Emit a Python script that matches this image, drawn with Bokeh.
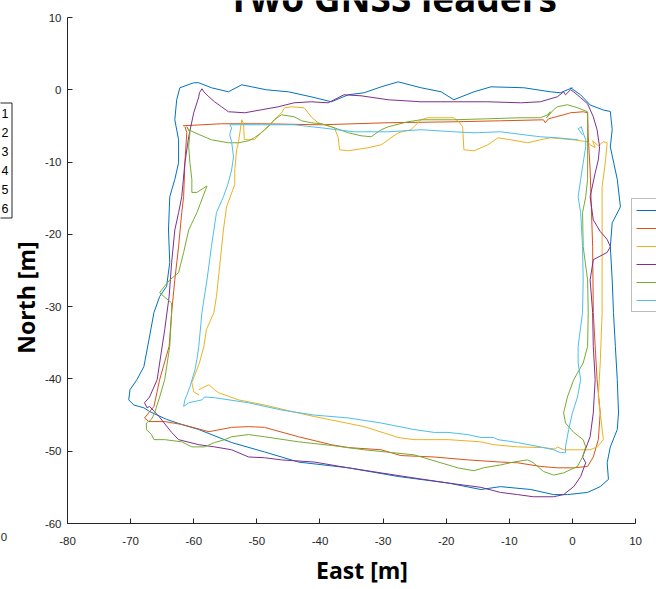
from bokeh.plotting import figure
from bokeh.layouts import row
from bokeh.models import Range1d, FixedTicker, Label, Legend, LegendItem
from bokeh.embed import file_html
from bokeh.resources import INLINE
from bokeh.core.properties import value
import math

# ---------------- data (East [m], North [m]) ----------------
x_ticks = [-80, -70, -60, -50, -40, -30, -20, -10, 0, 10]
y_ticks = [-60, -50, -40, -30, -20, -10, 0, 10]
series_names = ["1", "2", "3", "4", "5", "6"]
colors = ["#0072BD", "#D95319", "#EDB120", "#7E2F8E", "#77AC30", "#4DBEEE"]

east_1 = [0.0, -1.9, -3.5, -7.7, -12.9, -15.6, -18.8, -20.8, -24.0, -27.6, -30.3, -33.0, -35.5, -38.2, -41.4, -45.0,
          -48.5, -50.8, -52.4, -54.5, -57.2, -59.2, -60.0, -62.2, -62.7, -63.0, -62.4, -62.4, -63.0, -63.8, -64.0,
          -63.8, -64.3, -65.4, -66.3, -67.1, -67.9, -69.0, -70.1, -70.3, -69.5, -67.9, -67.0, -64.3, -61.9, -59.2,
          -54.0, -48.8, -43.4, -35.5, -27.6, -19.7, -14.5, -11.4, -6.6, -3.0, -0.8, 2.4, 4.4, 5.7, 5.5, 6.0, 7.1,
          7.3, 7.1, 6.8, 6.5, 6.3, 6.0, 6.3, 7.6, 7.1, 6.0, 6.3, 6.0, 4.9, 2.8, 1.3, -0.3]
north_1 = [0.28, -0.41, -0.28, 0.28, 0.41, -0.28, -1.38, -0.28, 0.28, 1.1, 0.41, -0.41, -0.69, -1.66, -0.97, -0.28,
           0.0, 0.41, 0.69, -0.28, 0.28, 0.97, 0.97, 0.28, -1.38, -4.15, -6.9, -10.1, -12.4, -14.8, -19.4,
           -23.9, -27.2, -28.6, -30.8, -34.6, -38.3, -40.1, -41.5, -42.9, -43.6, -44.0, -44.5, -45.6, -46.3, -47.0,
           -48.8, -50.1, -51.5, -52.3, -53.5, -54.4, -55.3, -54.9, -55.3, -56.0, -56.0, -55.7, -54.9, -53.9, -51.6,
           -49.4, -47.0, -44.7, -40.1, -35.5, -30.8, -26.3, -21.7, -18.4, -16.2, -12.4, -7.9, -5.5, -3.0, -2.8,
           -2.1, -0.7, 0.28]

east_2 = [-61.7, -55.6, -49.3, -39.8, -29.2, -18.8, -11.4, -4.6, -4.3, -3.8, -1.4, -0.3, 1.7, 2.4, 2.5, 2.8, 3.2,
          3.3, 3.9, 4.4, 4.1, 3.3, 2.4, 0.2, -2.4, -5.1, -8.7, -11.4, -16.6, -21.9, -27.2, -30.3, -35.5, -38.2,
          -43.4, -48.8, -51.3, -54.0, -57.6, -61.9, -64.6, -67.1, -67.8, -66.3, -65.4, -63.9, -63.5, -63.0, -62.4,
          -61.9, -61.6, -61.4, -61.1, -61.4]
north_2 = [-4.98, -4.70, -4.70, -4.84, -4.56, -4.43, -4.29, -4.15, -4.56, -4.01, -3.46, -3.18, -3.04, -3.18, -6.5,
           -11.1, -21.7, -30.8, -40.1, -44.7, -48.4, -50.8, -52.1, -52.3, -52.3, -52.1, -51.6, -51.5, -51.2, -50.8,
           -50.6, -49.8, -49.5, -49.1, -48.0, -46.7, -46.6, -46.7, -47.3, -46.3, -45.9, -45.9, -45.4, -43.8, -40.1,
           -35.5, -30.8, -26.3, -21.7, -17.0, -14.8, -10.1, -5.9, -5.1]

east_3 = [-59.2, -60.0, -60.3, -59.1, -58.4, -58.0, -56.8, -56.4, -55.9, -55.3, -54.8, -53.5, -53.5, -53.2, -52.9,
          -52.4, -52.1, -52.0, -50.4, -48.8, -47.7, -46.1, -45.6, -44.5, -42.5, -41.4, -40.3, -37.7, -37.1, -36.9,
          -35.5, -32.4, -30.3, -29.2, -27.6, -25.6, -24.0, -22.9, -18.8, -18.0, -17.4, -17.2, -15.6, -13.4, -11.8,
          -9.8, -7.1, -5.1, -3.5, 0.2, 2.4, 2.8, 3.6, 3.2, 4.1, 4.9, 5.5, 5.2, 4.7, 4.7, 4.7, 4.4, 4.1, 4.4, 4.9,
          3.9, 2.8, 1.3, -1.4, -2.4, -2.7, -4.6, -8.7, -12.5, -14.5, -19.7, -25.1, -27.6, -33.0, -40.9, -44.5,
          -48.8, -52.9, -56.1, -56.7, -57.6, -58.3, -59.2]
north_3 = [-42.2, -41.8, -40.5, -37.8, -35.5, -33.2, -30.8, -28.6, -24.5, -19.4, -16.2, -13.1, -11.1, -8.3, -7.2,
           -4.15, -4.7, -6.9, -6.9, -5.5, -4.56, -3.18, -2.49, -2.35, -2.49, -3.73, -4.56, -5.26, -6.64, -8.3,
           -8.44, -8.02, -7.61, -6.92, -5.95, -5.53, -4.15, -3.87, -3.87, -4.43, -5.12, -8.3, -8.44, -7.61, -6.64,
           -6.92, -7.33, -6.92, -6.64, -6.92, -7.19, -7.6, -8.0, -7.05, -7.75, -7.19, -7.33, -10.1, -13.4, -21.7,
           -30.8, -37.8, -42.5, -44.7, -48.4, -49.4, -49.8, -49.8, -49.8, -49.4, -49.7, -49.5, -49.4, -49.1,
           -48.7, -48.4, -48.4, -48.1, -46.6, -45.2, -44.5, -43.6, -42.9, -41.9, -41.5, -40.8, -41.1, -41.5]

east_4 = [-59.1, -58.7, -58.4, -57.6, -56.7, -55.6, -54.5, -51.9, -49.3, -46.6, -44.1, -41.4, -38.7, -36.2, -33.5,
          -29.2, -24.0, -18.8, -13.4, -8.2, -5.1, -2.4, -1.4, -1.1, -0.3, 0.2, 1.3, 2.4, 3.3, 3.9, 4.3, 4.1, 3.6,
          2.8, 3.3, 4.4, 5.5, 6.0, 5.5, 3.3, 2.8, 3.2, 3.3, 3.6, 3.3, 2.8, 1.6, 2.1, 1.3, 0.2, -1.4, -3.0, -6.2,
          -8.7, -11.4, -14.5, -19.7, -25.1, -30.3, -35.5, -40.9, -46.1, -48.8, -51.3, -54.0, -56.7, -59.2, -62.4,
          -63.5, -65.5, -67.0, -67.4, -67.8, -67.0, -65.8, -65.4, -64.6, -63.9, -63.5, -63.0, -62.4, -61.9,
          -61.4, -60.8, -60.0, -59.2, -59.1]
north_4 = [-0.41, 0.14, -0.28, -0.97, -1.66, -2.35, -3.04, -3.18, -2.77, -2.35, -1.80, -1.66, -1.80, -0.69, -0.83,
           -1.38, -1.66, -1.66, -1.66, -1.80, -1.66, -0.97, -0.28, -0.69, 0.0, -0.28, -1.1, -1.94, -3.73, -5.53,
           -7.88, -9.68, -11.5, -14.8, -18.0, -19.6, -20.7, -21.7, -22.5, -23.5, -26.3, -30.8, -35.5, -40.1,
           -44.7, -48.0, -50.8, -51.6, -53.5, -54.9, -56.0, -56.3, -56.3, -56.0, -55.7, -55.0, -54.4, -53.7,
           -53.0, -52.3, -51.5, -51.2, -50.9, -50.8, -49.8, -49.4, -49.1, -48.4, -47.4, -45.2, -43.8, -44.0,
           -43.3, -42.5, -40.1, -37.8, -33.2, -28.6, -23.9, -19.4, -17.0, -14.8, -10.1, -6.5, -3.18, -0.97, -0.41]

east_5 = [-61.1, -60.8, -59.8, -57.2, -54.5, -52.9, -51.3, -50.4, -49.3, -48.2, -47.2, -46.1, -44.1, -42.9, -41.4,
          -39.8, -38.2, -35.5, -33.5, -31.9, -30.3, -29.2, -26.1, -24.0, -18.8, -13.4, -8.2, -5.1, -3.9, -3.5,
          -4.1, -3.0, -2.4, -0.8, 0.8, 2.4, 2.4, 2.4, 2.1, 1.6, 1.7, 2.4, 2.5, 2.4, 1.7, 0.2, -0.8, -1.4, -1.1,
          0.2, 1.7, 2.1, 1.6, 0.8, -1.4, -3.0, -4.6, -6.2, -7.1, -9.3, -11.4, -14.1, -15.6, -18.2, -19.7, -22.4,
          -25.1, -33.0, -38.2, -43.4, -48.8, -51.3, -54.0, -55.1, -56.7, -58.3, -60.3, -61.9, -64.6, -66.3,
          -66.7, -67.5, -67.5, -66.7, -66.2, -65.4, -64.6, -63.8, -63.5, -63.5, -65.4, -65.1, -63.8, -62.4,
          -61.6, -60.8, -59.5, -57.9, -59.5, -60.3, -60.3, -60.6, -60.8, -60.6, -61.1]
north_5 = [-5.12, -5.53, -5.95, -6.92, -7.33, -7.33, -7.05, -6.64, -5.95, -5.12, -4.15, -3.46, -3.73, -4.29, -4.56,
           -4.70, -5.12, -5.95, -6.36, -6.5, -5.53, -5.12, -4.43, -4.15, -4.15, -4.01, -3.87, -3.87, -3.46, -3.04,
           -3.87, -2.77, -2.35, -2.07, -2.49, -3.04, -7.88, -12.4, -14.8, -17.0, -21.7, -26.3, -30.8, -35.5,
           -37.8, -40.1, -42.5, -44.7, -46.1, -47.4, -48.4, -49.4, -50.8, -52.1, -53.0, -53.3, -52.8, -51.6,
           -51.2, -51.5, -51.9, -52.3, -52.7, -52.3, -51.9, -51.2, -50.5, -49.8, -49.2, -48.7, -48.0, -47.7,
           -48.0, -48.4, -48.8, -49.4, -49.4, -48.7, -48.4, -48.4, -47.7, -47.0, -46.1, -45.6, -44.7, -42.5,
           -40.1, -35.5, -30.8, -29.5, -28.1, -27.7, -26.3, -25.3, -22.5, -19.4, -17.0, -13.3, -14.2, -14.2,
           -12.4, -10.1, -7.88, -5.95, -5.12]

east_6 = [1.6, 0.9, 1.4, 1.7, 2.1, 2.1, 1.7, 1.3, 0.9, 1.3, 1.6, 1.7, 1.6, 0.9, 0.9, 1.3, 0.8, 0.0, -0.6, -1.1,
          -1.1, -1.9, -3.0, -5.1, -8.7, -11.8, -12.5, -14.5, -16.6, -19.7, -21.9, -25.1, -30.3, -35.5, -40.9,
          -46.1, -51.3, -56.7, -58.3, -58.7, -60.8, -61.6, -61.4, -60.6, -59.8, -59.5, -59.2, -58.7, -57.9,
          -57.2, -56.4, -55.3, -54.6, -54.0, -53.7, -54.0, -54.3, -54.0, -54.3, -52.9, -49.3, -44.1, -39.8,
          -34.6, -29.2, -24.0, -18.8, -15.6, -11.4, -7.7, -5.1, -2.4, 0.9]
north_6 = [-6.22, -5.39, -5.12, -5.95, -6.92, -7.88, -10.1, -12.4, -14.8, -17.0, -21.7, -26.3, -30.8, -35.5, -37.8,
           -40.1, -42.5, -44.7, -47.0, -49.4, -50.2, -50.2, -49.8, -49.4, -48.8, -48.4, -48.1, -48.1, -47.7,
           -47.4, -47.4, -47.0, -46.1, -45.4, -45.0, -44.3, -43.3, -42.6, -42.5, -42.9, -43.3, -43.8, -42.9,
           -41.1, -38.7, -37.3, -35.5, -30.8, -26.3, -21.7, -17.0, -14.8, -13.1, -11.1, -9.27, -7.19, -6.22,
           -5.26, -4.84, -4.84, -4.84, -4.84, -5.26, -5.81, -5.81, -5.53, -5.81, -5.95, -5.81, -6.22, -6.5,
           -6.64, -6.92]

east_all = [east_1, east_2, east_3, east_4, east_5, east_6]
north_all = [north_1, north_2, north_3, north_4, north_5, north_6]

title_text = "Two GNSS leaders"
x_label = "East [m]"
y_label = "North [m]"
stray_tick_label = "0"

# ---------------- layout constants (pixels) ----------------
AX = "#262626"
W, H = 656, 589
STRIP_W = 41                 # left strip: cut-off legend, y label
SX0 = 3                      # strip pixel offset (strip x = pixel - SX0)
FRAME_L, FRAME_R = 65, 635   # pixel positions of x = -80 and x = 10
FRAME_T, FRAME_B = 17, 523   # pixel positions of y = 10 and y = -60
px_x = (FRAME_R - FRAME_L) / (x_ticks[-1] - x_ticks[0])
px_y = (FRAME_B - FRAME_T) / (y_ticks[-1] - y_ticks[0])
x_end = x_ticks[-1] + (W - FRAME_R) / px_x     # frame reaches the right window edge
y_end = y_ticks[-1] + FRAME_T / px_y           # frame reaches the top window edge

# ---------------- main figure ----------------
p = figure(width=W - STRIP_W, height=H, output_backend="svg", toolbar_location=None,
           x_range=Range1d(x_ticks[0], x_end), y_range=Range1d(y_ticks[0], y_end), title=None,
           min_border_left=FRAME_L - STRIP_W, min_border_right=0, min_border_top=0,
           min_border_bottom=H - FRAME_B)
p.xgrid.visible = False
p.ygrid.visible = False
p.outline_line_color = None
p.background_fill_color = "white"
p.border_fill_color = "white"

for ax, ticks in ((p.xaxis, x_ticks), (p.yaxis, y_ticks)):
    ax.ticker = FixedTicker(ticks=ticks)
    ax.bounds = (ticks[0], ticks[-1])
    ax.major_label_overrides = {t: str(t) for t in ticks}
    ax.major_tick_in = 5
    ax.major_tick_out = 0
    ax.minor_tick_line_color = None
    ax.axis_line_color = AX
    ax.major_tick_line_color = AX
    ax.major_label_text_color = AX
    ax.major_label_text_font = "Liberation Sans"
    ax.major_label_text_font_size = "11.5px"
p.xaxis.major_label_standoff = 13
p.yaxis.major_label_standoff = 6

p.xaxis.axis_label = x_label
p.xaxis.axis_label_text_font = "Open Sans"
p.xaxis.axis_label_text_font_style = "bold"
p.xaxis.axis_label_text_font_size = "23px"
p.xaxis.axis_label_text_color = "#000000"
p.xaxis.axis_label_standoff = 6

renderers = []
for xs, ys, c in zip(east_all, north_all, colors):
    r = p.line(xs, ys, line_color=c, line_width=1)
    renderers.append(r)

# right legend (only its line samples fall inside the window); location = bottom-left corner
leg_right = Legend(items=[LegendItem(label=value(""), renderers=[r]) for r in renderers],
                   location=(629 - FRAME_L, FRAME_B - 312), orientation="vertical", padding=4, spacing=4,
                   glyph_width=40, glyph_height=14, label_height=14, label_width=8, label_standoff=5,
                   label_text_font_size="12px",
                   border_line_color="#7a7a7a", border_line_width=1.5, background_fill_color="white",
                   background_fill_alpha=1, margin=0)
p.add_layout(leg_right)

# title (cut off by the top of the window, as in the reference); baseline near y = 11 px
TITLE_PX = 37
title_mid = 11 - (1.069 - 0.293) / 2 * TITLE_PX
p.add_layout(Label(x=390 - FRAME_L, y=FRAME_B - title_mid, x_units="screen", y_units="screen",
                   text=title_text, text_align="center", text_baseline="middle", text_font="Open Sans",
                   text_font_style="bold", text_font_size=f"{TITLE_PX}px", text_color="#000000"))

# ---------------- left strip: cut-off legend (1..6) and the y label ----------------
s = figure(width=STRIP_W, height=H, output_backend="svg", toolbar_location=None,
           x_range=Range1d(-SX0, STRIP_W - SX0), y_range=Range1d(FRAME_B, 0), title=None,
           x_axis_location="below", y_axis_location=None,
           min_border_left=0, min_border_right=0, min_border_top=0, min_border_bottom=H - FRAME_B)
s.xgrid.visible = False
s.ygrid.visible = False
s.outline_line_color = None
s.background_fill_color = "white"
s.border_fill_color = "white"
# a lone, cut-off tick label of a neighbouring axes at the left window edge
s.xaxis.ticker = FixedTicker(ticks=[0])
s.xaxis.major_label_overrides = {0: stray_tick_label}
s.xaxis.major_label_text_align = "right"
s.xaxis.axis_line_color = None
s.xaxis.major_tick_line_color = None
s.xaxis.minor_tick_line_color = None
s.xaxis.major_label_standoff = 3
s.xaxis.major_label_text_font = "Liberation Sans"
s.xaxis.major_label_text_font_size = "11.5px"
s.xaxis.major_label_text_color = AX

s.quad(left=-20 - SX0, right=11.5 - SX0, top=102.5, bottom=217.5, fill_color="white", line_color=AX,
       line_width=1)
s.text(x=[1.0 - SX0] * 6, y=[113, 132, 151, 170, 189, 208], text=series_names,
       text_font=value("Liberation Sans"), text_font_size="12.5px", text_color="#000000",
       text_baseline="middle", text_align="left")
YL_PX = 23
s.text(x=[34 - (1.069 - 0.293) / 2 * YL_PX - SX0], y=[297], text=[y_label], angle=math.pi / 2,
       text_font=value("Open Sans"), text_font_style="bold", text_font_size=f"{YL_PX}px",
       text_color="#000000", text_baseline="middle", text_align="center")

layout = row(s, p, spacing=0)
open("out.html", "w").write(file_html(layout, INLINE))
